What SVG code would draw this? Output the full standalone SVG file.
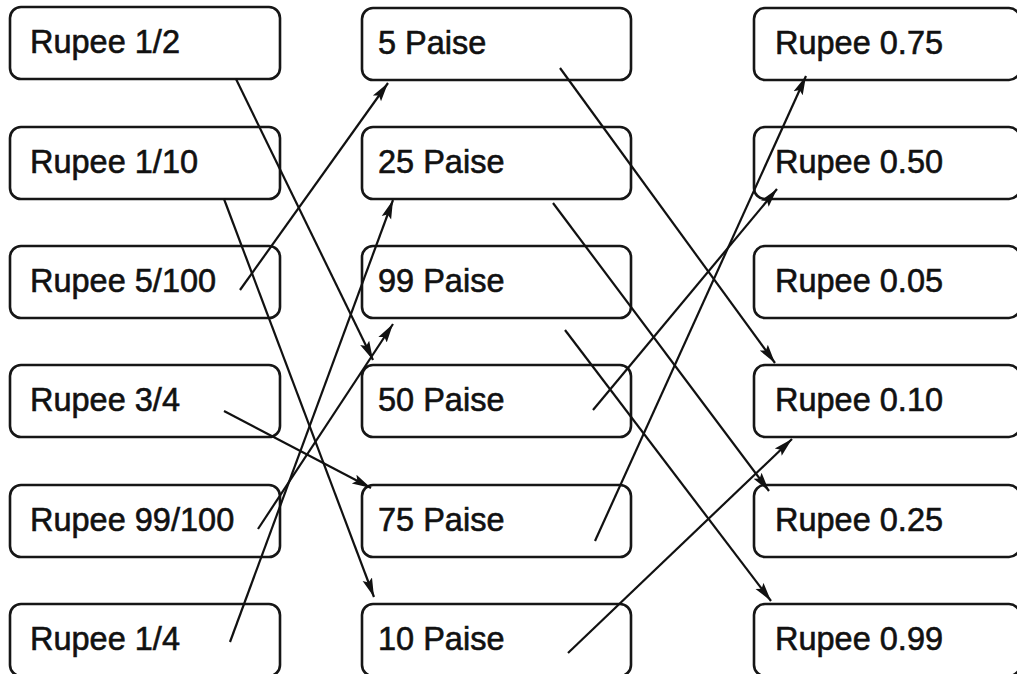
<svg xmlns="http://www.w3.org/2000/svg" width="1017" height="674" viewBox="0 0 1017 674">
  <defs>
    <style>
      .box { fill: #ffffff; stroke: #161616; stroke-width: 2.6; }
      .lbl { font-family: "Liberation Sans", Arial, Helvetica, sans-serif; font-size: 32.5px; fill: #111111; stroke: #111111; stroke-width: 0.6; }
      .wire { stroke: #111111; stroke-width: 2.2; fill: none; marker-end: url(#head); }
    </style>
    <marker id="head" markerUnits="userSpaceOnUse" markerWidth="20" markerHeight="12" refX="19" refY="6" orient="auto">
      <path d="M0,1 L19,6 L0,11 L3.5,6 z" fill="#111111"/>
    </marker>
  </defs>
  <rect width="1017" height="674" fill="#ffffff"/>

  <!-- left column: fractions of a rupee -->
  <g id="r-half"><rect class="box" x="10" y="7" width="270" height="72" rx="11"/><text class="lbl" x="30" y="53">Rupee 1/2</text></g>
  <g id="r-tenth"><rect class="box" x="10" y="127" width="270" height="72" rx="11"/><text class="lbl" x="30" y="173">Rupee 1/10</text></g>
  <g id="r-5-100"><rect class="box" x="10" y="246" width="270" height="72" rx="11"/><text class="lbl" x="30" y="292">Rupee 5/100</text></g>
  <g id="r-3-4"><rect class="box" x="10" y="365" width="270" height="72" rx="11"/><text class="lbl" x="30" y="411">Rupee 3/4</text></g>
  <g id="r-99-100"><rect class="box" x="10" y="485" width="270" height="72" rx="11"/><text class="lbl" x="30" y="531">Rupee 99/100</text></g>
  <g id="r-1-4"><rect class="box" x="10" y="604" width="270" height="72" rx="11"/><text class="lbl" x="30" y="650">Rupee 1/4</text></g>

  <!-- middle column: paise -->
  <g id="p5"><rect class="box" x="362" y="8" width="269" height="72" rx="11"/><text class="lbl" x="378" y="54">5 Paise</text></g>
  <g id="p25"><rect class="box" x="362" y="127" width="269" height="72" rx="11"/><text class="lbl" x="378" y="173">25 Paise</text></g>
  <g id="p99"><rect class="box" x="362" y="246" width="269" height="72" rx="11"/><text class="lbl" x="378" y="292">99 Paise</text></g>
  <g id="p50"><rect class="box" x="362" y="365" width="269" height="72" rx="11"/><text class="lbl" x="378" y="411">50 Paise</text></g>
  <g id="p75"><rect class="box" x="362" y="485" width="269" height="72" rx="11"/><text class="lbl" x="378" y="531">75 Paise</text></g>
  <g id="p10"><rect class="box" x="362" y="604" width="269" height="72" rx="11"/><text class="lbl" x="378" y="650">10 Paise</text></g>

  <!-- right column: decimal rupees -->
  <g id="d075"><rect class="box" x="754" y="8" width="266" height="72" rx="11"/><text class="lbl" x="775" y="54">Rupee 0.75</text></g>
  <g id="d050"><rect class="box" x="754" y="127" width="266" height="72" rx="11"/><text class="lbl" x="775" y="173">Rupee 0.50</text></g>
  <g id="d005"><rect class="box" x="754" y="246" width="266" height="72" rx="11"/><text class="lbl" x="775" y="292">Rupee 0.05</text></g>
  <g id="d010"><rect class="box" x="754" y="365" width="266" height="72" rx="11"/><text class="lbl" x="775" y="411">Rupee 0.10</text></g>
  <g id="d025"><rect class="box" x="754" y="485" width="266" height="72" rx="11"/><text class="lbl" x="775" y="531">Rupee 0.25</text></g>
  <g id="d099"><rect class="box" x="754" y="604" width="266" height="72" rx="11"/><text class="lbl" x="775" y="650">Rupee 0.99</text></g>

  <!-- connectors -->
  <g id="connectors">
    <line class="wire" x1="236" y1="79" x2="373" y2="360"/>
    <line class="wire" x1="224" y1="199" x2="374" y2="597"/>
    <line class="wire" x1="240" y1="290" x2="388" y2="83"/>
    <line class="wire" x1="224" y1="411" x2="371" y2="488"/>
    <line class="wire" x1="258" y1="529" x2="393" y2="324"/>
    <line class="wire" x1="230" y1="642" x2="393" y2="200"/>
    <line class="wire" x1="560" y1="68" x2="775" y2="363"/>
    <line class="wire" x1="553" y1="203" x2="769" y2="491"/>
    <line class="wire" x1="565" y1="330" x2="771" y2="601"/>
    <line class="wire" x1="593" y1="410" x2="777" y2="189"/>
    <line class="wire" x1="595" y1="541" x2="806" y2="76"/>
    <line class="wire" x1="568" y1="653" x2="792" y2="439"/>
  </g>
</svg>
